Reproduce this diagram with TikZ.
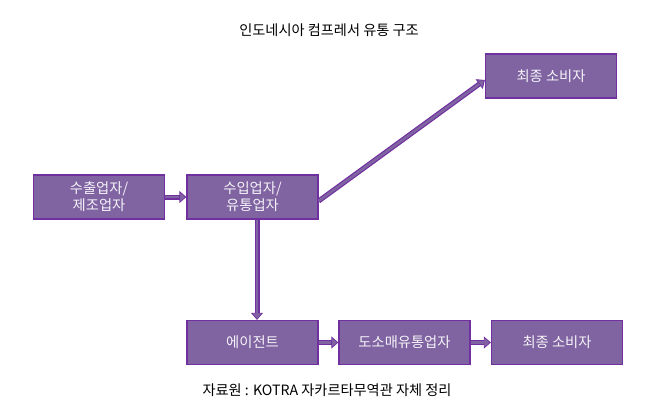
\documentclass[tikz,border=0pt]{standalone}
\usepackage{fontspec}
\setmainfont{Noto Sans CJK KR}
\usetikzlibrary{arrows.meta,calc}
\definecolor{boxfill}{HTML}{8064A2}
\definecolor{boxline}{HTML}{7030A0}
\tikzset{
  pbox/.style={draw=boxline, line width=1.3pt, fill=boxfill, text=white!92!boxfill,
    minimum width=131pt, minimum height=44pt, inner sep=0pt, align=center,
    font=\fontsize{14.3}{17}\selectfont},
  parrow/.style={draw=boxfill, line width=2.6pt, shorten >=7pt,
    preaction={draw=boxline, line width=5pt, shorten >=0pt,
      -{Triangle[length=7pt,width=12pt,line width=0.8pt,fill=boxfill,color=boxline]}}},
  plain/.style={font=\fontsize{14.2}{16}\selectfont, text=black}
}
\begin{document}
\begin{tikzpicture}[x=1pt,y=-1pt]
\useasboundingbox (0,0) rectangle (652,414);
\node[plain] (title) at (329,30) {인도네시아 컴프레서 유통 구조};
\node[pbox] (b1) at (99,197) {수출업자/\\제조업자};
\node[pbox] (b2) at (252.5,197) {수입업자/\\유통업자};
\node[pbox] (c1) at (551,76) {최종 소비자};
\node[pbox] (a1) at (252.5,342.5) {에이전트};
\node[pbox] (a2) at (404.5,342.5) {도소매유통업자};
\node[pbox] (a3) at (557,342.5) {최종 소비자};
\node[plain] (src) at (327,390) {자료원 : KOTRA 자카르타무역관 자체 정리};
\draw[parrow] (b1.east) -- (b2.west);
\draw[parrow] ([yshift=-4pt]b2.east) -- ([yshift=-4pt]c1.west);
\draw[parrow] ([xshift=4.5pt]b2.south) -- ([xshift=4.5pt]a1.north);
\draw[parrow] (a1.east) -- (a2.west);
\draw[parrow] (a2.east) -- (a3.west);
\end{tikzpicture}
\end{document}
